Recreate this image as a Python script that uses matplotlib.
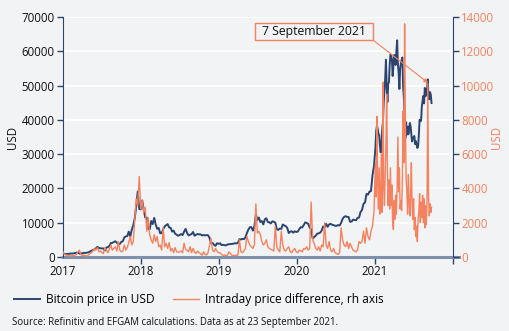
import numpy as np, pandas as pd
import matplotlib
matplotlib.use('Agg')
import matplotlib.pyplot as plt
from matplotlib.patches import Rectangle

plt.rcParams['font.family'] = ['Open Sans', 'DejaVu Sans']

######################################################################
# values
# 2017-2020: weekly (Sundays), 2021: every 3.5 days
# Bitcoin price in USD (left axis)
btc_2017 = [1000, 900, 830, 920, 920,
            1020, 1000, 1050, 1150,
            1270, 1230, 1000, 960,
            1100, 1190, 1180, 1250, 1350,
            1600, 1780, 2050, 2200,
            2520, 2950, 2600, 2550,
            2500, 2500, 1930, 2750, 2870,
            3230, 4060, 4100, 4380,
            4600, 4200, 3700, 3800,
            4400, 4600, 5700, 6000, 6100,
            7400, 5900, 8000, 9300,
            11300, 15000, 19100, 14000, 13900]
btc_2018 = [16500, 13800, 11500, 11500,
            8200, 8100, 10500, 9600,
            11400, 9500, 8200, 8500,
            6900, 7000, 8100, 8900, 9300,
            9600, 8600, 8500, 7400,
            7700, 6800, 6500, 6200,
            6400, 6700, 6400, 7400, 8200,
            7000, 6300, 6500, 6700,
            7300, 6200, 6500, 6700, 6600,
            6600, 6300, 6400, 6300,
            6400, 6350, 5600, 4000,
            4100, 3600, 3250, 4000, 3850]
btc_2019 = [4000, 3500, 3550, 3450,
            3400, 3650, 3700, 3800,
            3800, 3900, 4000, 3980, 4100,
            5200, 5100, 5300, 5200,
            5700, 7000, 8000, 8700,
            8700, 7700, 8900, 12400, 10800,
            11500, 10200, 10500, 9500,
            11000, 11300, 10200, 10100,
            9800, 10400, 10300, 10000, 8100,
            7900, 8300, 8200, 9500,
            9200, 9000, 8500, 7000,
            7400, 7500, 7100, 7500, 7300]
btc_2020 = [7400, 8100, 8700, 8600,
            9300, 10100, 9900, 9700,
            8600, 8000, 5400, 5800, 6200,
            6800, 6900, 7100, 7700,
            8900, 8700, 9700, 8800, 9500,
            9700, 9400, 9300, 9100,
            9100, 9300, 9200, 9900,
            11100, 11700, 11900, 11700, 11700,
            10300, 10300, 10900, 10800,
            10700, 11400, 11500, 13100,
            13700, 15500, 15900, 18400, 18200,
            19100, 19200, 23800, 26500]
btc_2021 = [32000, 36800, 38300, 37300, 36000, 35500, 32300, 30500, 33100,
            37000, 39300, 45000, 48700, 52000, 57500, 49700, 45200,
            50500, 51000, 56000, 59000, 58900, 57500, 52800, 55800,
            58900, 58800, 56000, 60000, 63200, 56200, 53800, 49000, 54800,
            56600, 57400, 58200, 49600, 46400, 40600, 34700, 39300, 35700,
            38000, 35800, 37300, 39100, 38100, 35600, 33700, 34700, 35000,
            35300, 32900, 33800, 32800, 31800, 32200, 35400, 40000,
            39900, 39700, 43800, 45600, 47000, 44800, 49300, 46900, 48800,
            48900, 51800, 46100, 46000, 48100, 47300, 44900]

# Intraday price difference in USD (right axis)
diff_2017 = [300, 150, 120, 100, 80,
             60, 90, 70, 110,
             150, 300, 400, 130,
             90, 100, 80, 70, 110,
             200, 250, 350, 500,
             400, 550, 300, 350,
             250, 200, 550, 400, 250,
             450, 700, 400, 500,
             600, 350, 900, 400,
             300, 350, 700, 400, 550,
             850, 1200, 700, 900,
             2200, 3400, 3000, 4700, 2800]
diff_2018 = [3300, 2600, 2900, 1500,
             2300, 1300, 1000, 800,
             1300, 900, 1200, 600,
             700, 400, 1700, 600, 800,
             500, 850, 350, 500,
             250, 550, 300, 280,
             300, 350, 250, 800, 450,
             400, 300, 600, 250,
             500, 280, 200, 350, 250,
             200, 100, 300, 150,
             120, 250, 700, 1100,
             400, 300, 500, 350, 250]
diff_2019 = [250, 150, 100, 120,
             80, 100, 300, 200,
             100, 90, 80, 120, 100,
             1000, 300, 250, 350,
             500, 1200, 900, 700,
             600, 500, 700, 3100, 1400,
             1500, 1300, 900, 700,
             800, 1000, 600, 500,
             450, 400, 350, 1800, 600,
             400, 300, 1500, 700,
             400, 350, 500, 600,
             300, 250, 400, 500, 300]
diff_2020 = [250, 400, 350, 300,
             500, 450, 600, 400,
             500, 3200, 1000, 800, 500,
             400, 600, 350, 700,
             600, 2000, 700, 500, 900,
             400, 300, 500, 250,
             200, 150, 250, 1700,
             1000, 700, 600, 900, 500,
             800, 600, 400, 350,
             300, 400, 900, 800,
             900, 1500, 800, 1700, 1200,
             1000, 1500, 1800, 2600]
diff_2021 = [5500, 3500, 8200, 4200, 2800, 5200, 2500, 3600, 6000,
             2600, 10200, 4000, 3000, 4800, 6500, 9500, 5000,
             3000, 4500, 2800, 5200, 3000, 4200, 2000, 1600,
             3300, 2200, 3600, 2500, 4200, 7000, 3800, 5200, 2800,
             3300, 2700, 4500, 8500, 5500, 13600, 8000, 4500, 3800,
             2500, 4800, 3300, 2400, 3600, 5500, 3000, 2200, 3400,
             1600, 2300, 1200, 1800, 900, 2200, 2600, 3700,
             2000, 3200, 2300, 3600, 2000, 3400, 1700, 3000, 1900,
             3300, 10100, 3500, 2400, 3100, 2600, 2900]

years = ['2017', '2018', '2019', '2020', '2021']
note_text = '7 September 2021'
note_date = '2021-09-07'
note_value = 10150
source = 'Source: Refinitiv and EFGAM calculations. Data as at 23 September 2021.'
######################################################################

btc = btc_2017 + btc_2018 + btc_2019 + btc_2020 + btc_2021
diff = diff_2017 + diff_2018 + diff_2019 + diff_2020 + diff_2021
n_weekly = len(btc_2017 + btc_2018 + btc_2019 + btc_2020)
dates = pd.date_range('2017-01-01', periods=n_weekly, freq='7D').append(
    pd.date_range('2021-01-03', periods=len(btc_2021), freq='84h'))

bg = '#f2f3f5'
navy = '#2c4570'
orange = '#f5825e'
axisgrey = '#8190aa'

fig = plt.figure(figsize=(5.09, 3.31), dpi=100, facecolor=bg)
ax = fig.add_axes([63/509, 1-257/331, 390/509, 240/331])
ax.set_facecolor(bg)
ax2 = ax.twinx()

ax.plot(dates, btc, color=navy, lw=1.4, label='Bitcoin price in USD')
ax2.plot(dates, diff, color=orange, lw=1.0, label='Intraday price difference, rh axis')

ax.set_xlim(pd.Timestamp('2017-01-01'), pd.Timestamp('2022-01-01'))
ax.set_ylim(0, 70000)
ax2.set_ylim(0, 14000)
ax.set_yticks(np.arange(0, 70001, 10000))
ax2.set_yticks(np.arange(0, 14001, 2000))

ticks = [pd.Timestamp(y + '-01-01') for y in years] + [pd.Timestamp('2022-01-01')]
ax.set_xticks(ticks)
ax.set_xticklabels(years + [''])
ax.xaxis.get_major_ticks()[0].tick1line.set_visible(False)

ax.grid(axis='y', color='white', lw=1.3)
ax.set_axisbelow(True)

for a in (ax, ax2):
    a.spines['top'].set_visible(False)
    a.spines['bottom'].set_visible(False)
ax.spines['right'].set_visible(False)
ax2.spines['left'].set_visible(False)
ax.spines['left'].set_color(navy)
ax2.spines['right'].set_color(navy)
ax.axhline(0, xmax=1.015, color=axisgrey, lw=2.2, zorder=1, clip_on=False)

ax.tick_params(axis='y', colors=navy, length=4, width=1, labelcolor='#111111', labelsize=8.3, pad=2)
ax.tick_params(axis='x', colors=navy, length=5, width=1, labelcolor='#111111', labelsize=8.3, pad=1)
ax2.tick_params(axis='y', colors=navy, length=4, width=1, labelcolor=orange, labelsize=8.3, pad=2)

ax.set_ylabel('USD', fontsize=8.3, color='#111111', labelpad=2)
ax2.set_ylabel('USD', fontsize=8.3, color=orange, labelpad=-3)

# annotation box + arrow
fig.patches.append(Rectangle((255/509, 1-40/331), 118/509, 17/331, transform=fig.transFigure,
                             facecolor=bg, edgecolor=orange, lw=1, zorder=5))
fig.text(314/509, 1-31.5/331, note_text, ha='center', va='center', fontsize=8.8, color='#111111', zorder=6)
ax2.annotate('', xy=(pd.Timestamp(note_date), note_value), xytext=(373/509, 1-40/331),
             textcoords='figure fraction',
             arrowprops=dict(arrowstyle='-|>', color=orange, lw=0.8, shrinkA=0, shrinkB=0,
                             mutation_scale=6))

h1, l1 = ax.get_legend_handles_labels()
h2, l2 = ax2.get_legend_handles_labels()
fig.legend(h1 + h2, l1 + l2, loc='center left', bbox_to_anchor=(3/509, 1-300/331), ncol=2,
           frameon=False, fontsize=8.6, handlelength=2.2, handletextpad=0.5, columnspacing=1.5)

fig.text(12/509, 1-322/331, source, ha='left', va='center', fontsize=6.9, color='#111111')

fig.savefig('out.png', dpi=100, facecolor=bg)
